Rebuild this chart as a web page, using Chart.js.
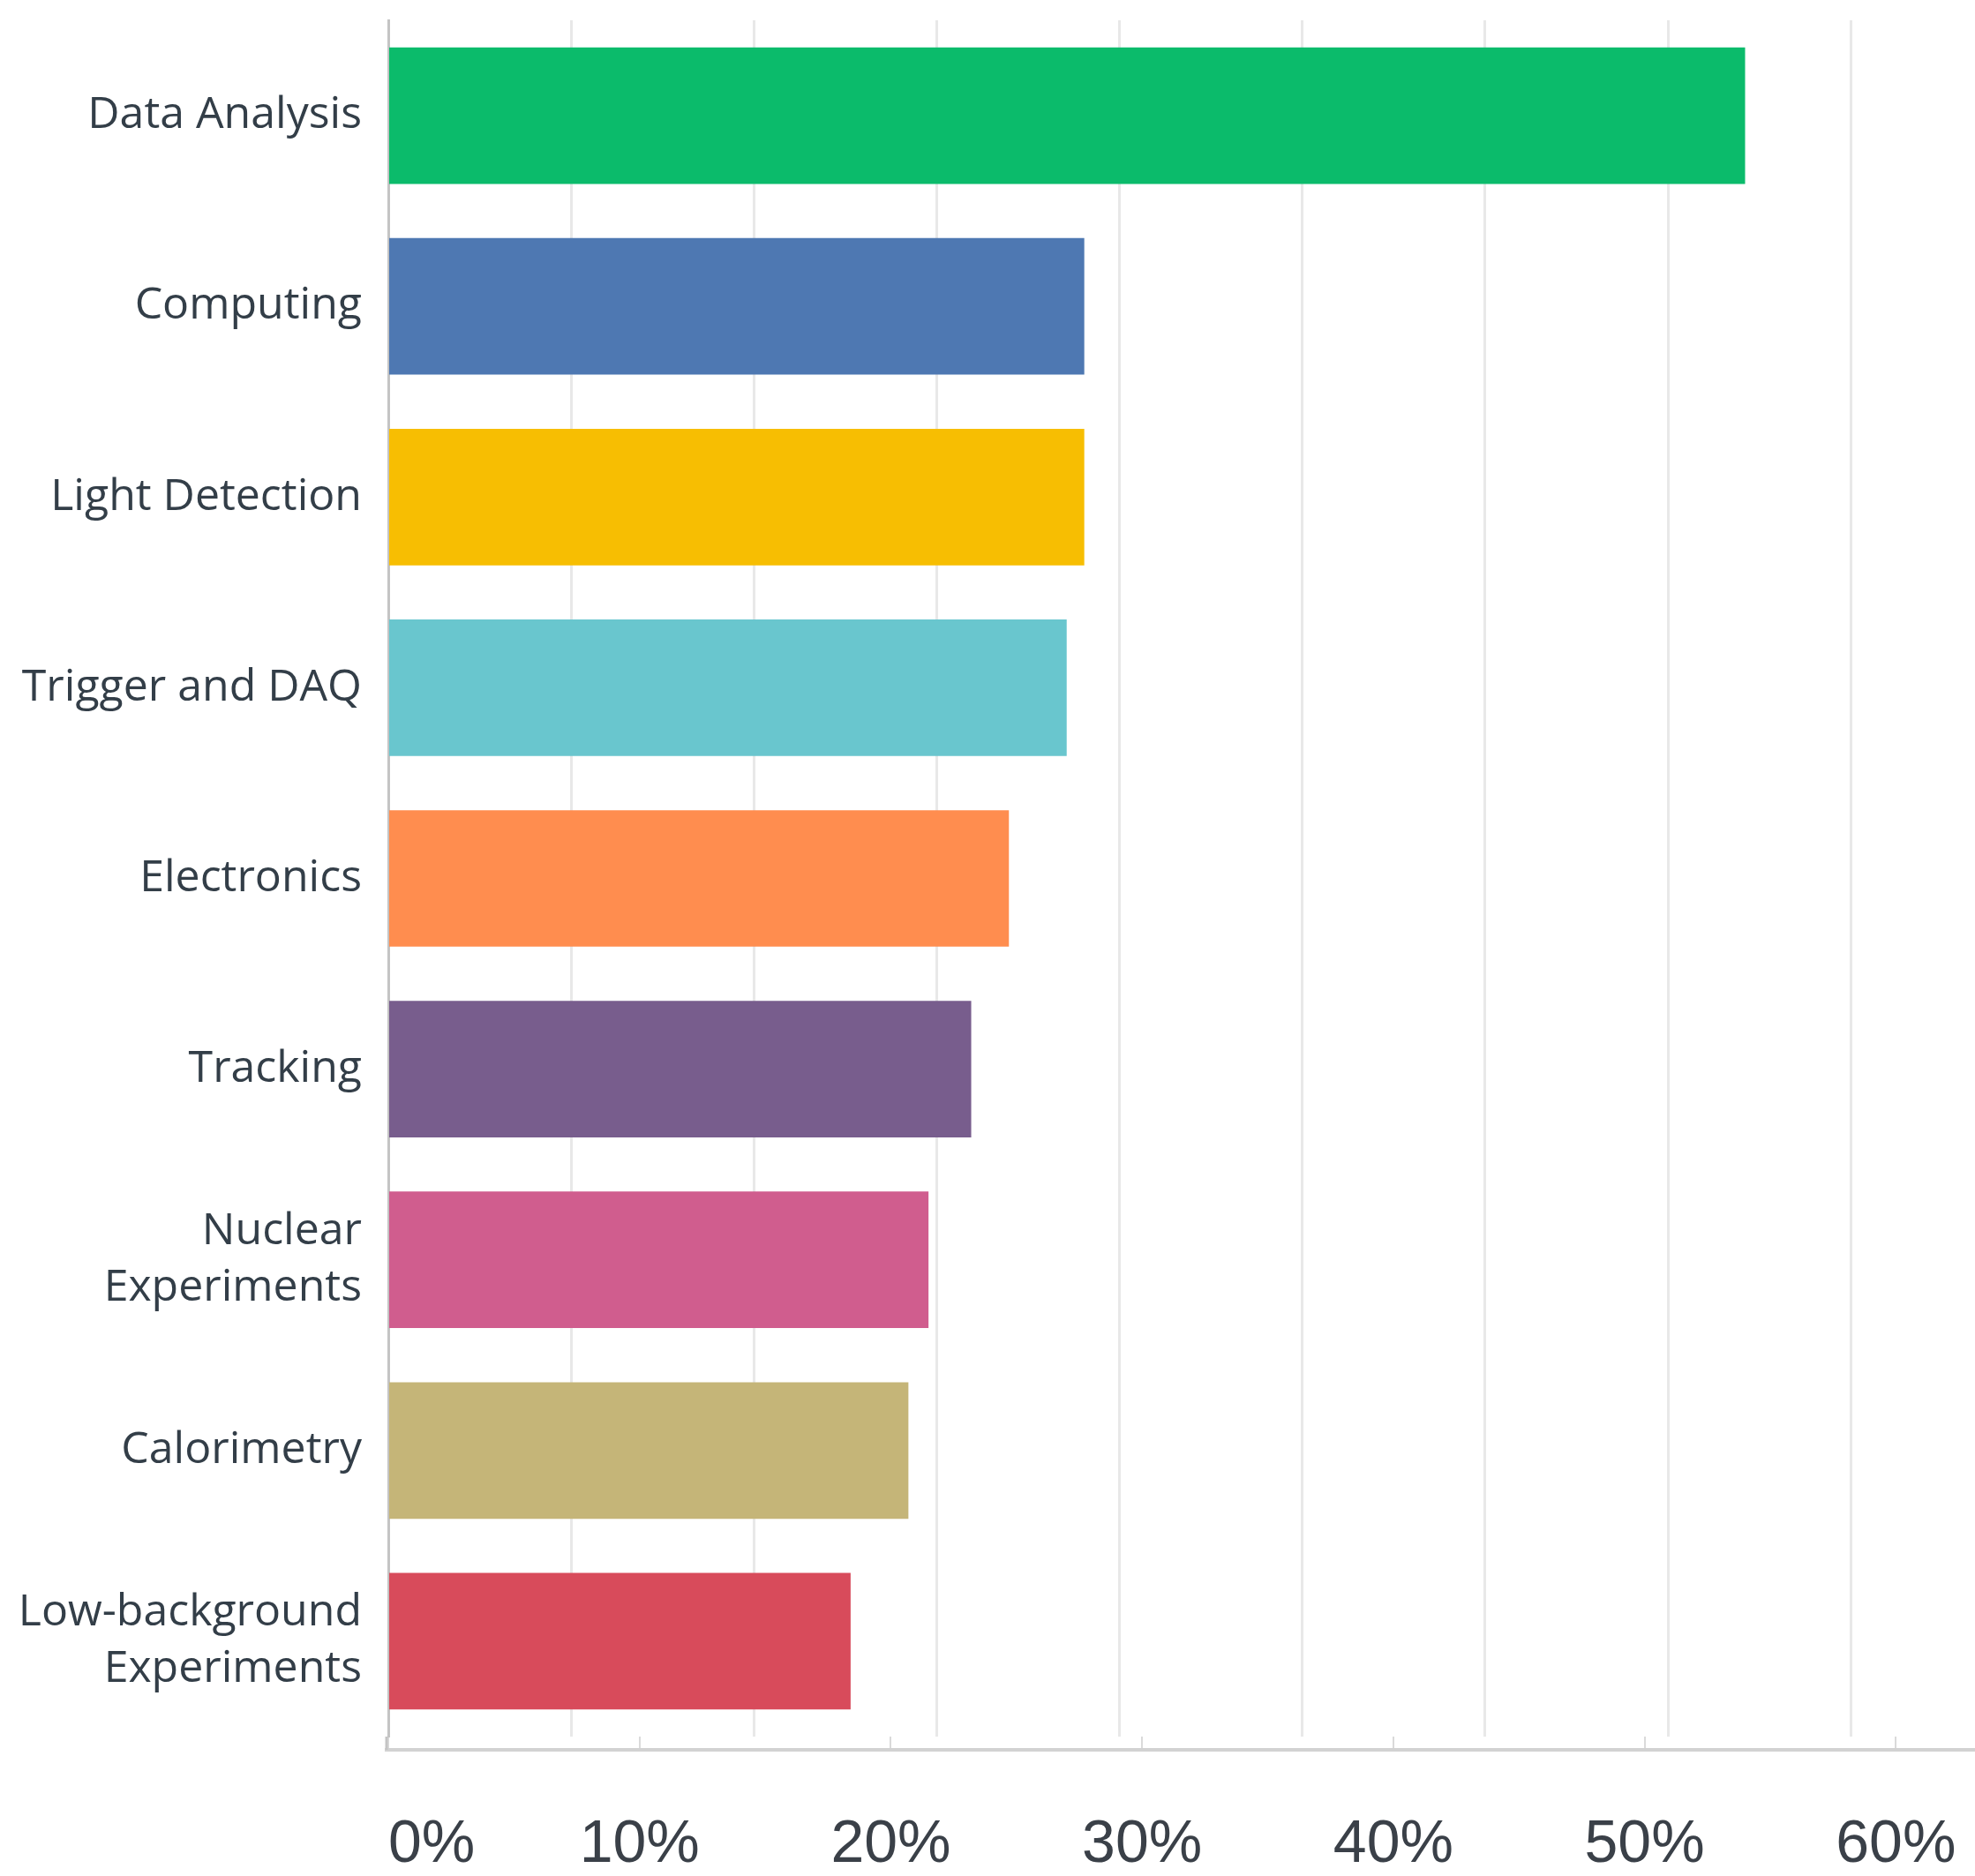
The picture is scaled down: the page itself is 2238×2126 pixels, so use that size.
<!DOCTYPE html>
<html>
<head>
<meta charset="utf-8">
<script src="https://cdn.jsdelivr.net/npm/chart.js@4.4.1/dist/chart.umd.min.js"></script>
<style>
    html, body { margin: 0; padding: 0; background: #ffffff; }
    #wrap { position: relative; width: 2238px; height: 2126px; }
</style>
</head>
<body>
<div id="wrap"><canvas id="areaChart"></canvas></div>
<script>
var areaLabels = [
    "Data Analysis",
    "Computing",
    "Light Detection",
    "Trigger and DAQ",
    "Electronics",
    "Tracking",
    ["Nuclear", "Experiments"],
    "Calorimetry",
    ["Low-background", "Experiments"]
];
var areaPercent = [54.0, 27.7, 27.7, 27.0, 24.7, 23.2, 21.5, 20.7, 18.4];
var areaColors = ["#0bbb6b", "#4e78b2", "#f7be02", "#69c6ce", "#ff8d4f", "#785d8d", "#d05d8e", "#c5b578", "#d84b5b"];
var tickStep = 10;
var axisMax = 63.15;
var gridMax = 8.68;

// bottom axis line sits under the short tick marks, left line runs down to meet it
var axisLinePlugin = {
    id: 'axisLine',
    afterDraw: function(chart) {
        var ctx = chart.ctx;
        var area = chart.chartArea;
        var lineY = area.bottom + 15;
        ctx.save();
        ctx.strokeStyle = '#d2d2d2';
        ctx.lineWidth = 4;
        ctx.beginPath();
        ctx.moveTo(area.left - 4, lineY);
        ctx.lineTo(chart.width, lineY);
        ctx.stroke();
        ctx.strokeStyle = '#c4c4c4';
        ctx.lineWidth = 3;
        ctx.beginPath();
        ctx.moveTo(area.left - 2, area.bottom);
        ctx.lineTo(area.left - 2, lineY);
        ctx.stroke();
        ctx.restore();
    }
};

// keep the plot area edges fixed instead of growing to fit edge labels
function noEdgePadding(scale) {
    scale.paddingTop = 0;
    scale.paddingBottom = 0;
    scale.paddingLeft = 0;
    scale.paddingRight = 0;
}

var chartOptions = {
    type: 'bar',
    data: {
        labels: areaLabels,
        datasets: [{
            label: 'Share of responses',
            data: areaPercent,
            backgroundColor: areaColors,
            borderWidth: 0,
            categoryPercentage: 1.0,
            barPercentage: 0.716
        }]
    },
    options: {
        indexAxis: 'y',
        responsive: true,
        maintainAspectRatio: false,
        animation: false,
        layout: {
            padding: { top: 23, left: 0, right: 0, bottom: 0 }
        },
        plugins: {
            legend: { display: false },
            tooltip: { enabled: false },
            title: { display: false }
        },
        scales: {
            y: {
                type: 'category',
                grid: { display: false },
                border: { display: true, color: '#c4c4c4', width: 3 },
                ticks: {
                    color: '#333e48',
                    padding: 22,
                    font: { family: "'Open Sans', sans-serif", size: 50, lineHeight: 1.28 }
                },
                afterFit: function(scale) {
                    scale.width = 440;
                    noEdgePadding(scale);
                }
            },
            x: {
                type: 'linear',
                position: 'bottom',
                min: 0,
                max: axisMax,
                grid: {
                    drawOnChartArea: false,
                    drawTicks: true,
                    tickLength: 15,
                    lineWidth: 2,
                    color: function(ctx) {
                        return ctx.tick && ctx.tick.value === axisMax ? 'rgba(0,0,0,0)' : '#dadada';
                    }
                },
                border: { display: false },
                afterBuildTicks: function(scale) {
                    scale.ticks.push({ value: axisMax });
                },
                afterFit: function(scale) {
                    scale.height = 158;
                    noEdgePadding(scale);
                },
                ticks: {
                    stepSize: tickStep,
                    includeBounds: false,
                    autoSkip: false,
                    maxRotation: 0,
                    align: 'inner',
                    padding: 72,
                    color: '#3a4048',
                    font: { family: "'Liberation Sans', Arial, sans-serif", size: 68, lineHeight: 1.07 },
                    callback: function(value) {
                        return value === axisMax ? '' : value + '%';
                    }
                }
            },
            xGrid: {
                type: 'linear',
                axis: 'x',
                position: 'top',
                min: 0,
                max: gridMax,
                grid: {
                    drawTicks: false,
                    color: '#e8e8e8',
                    lineWidth: 3
                },
                border: { display: false },
                afterFit: function(scale) {
                    scale.height = 0;
                    noEdgePadding(scale);
                },
                ticks: { display: false, stepSize: 1, includeBounds: false }
            }
        }
    },
    plugins: [axisLinePlugin]
};

var canvas = document.getElementById("areaChart");
var chart = new Chart(canvas, chartOptions);
</script>
</body>
</html>
